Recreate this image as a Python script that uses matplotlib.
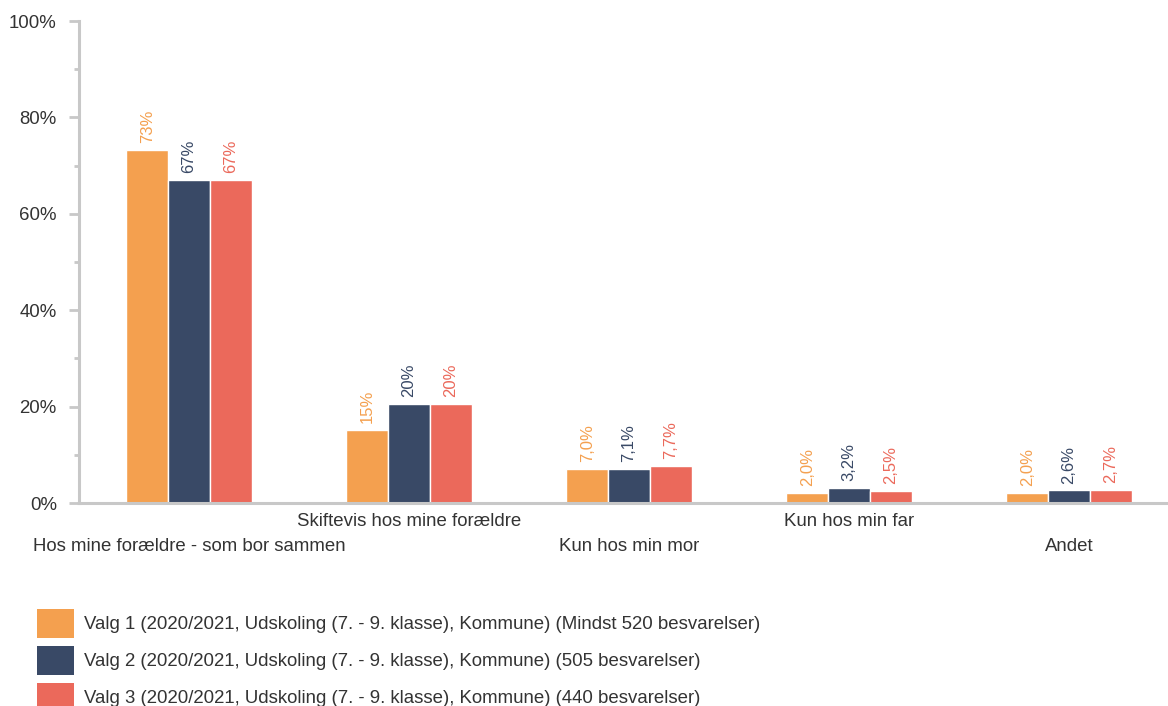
import matplotlib.pyplot as plt
from matplotlib.patches import Patch
from matplotlib.ticker import MultipleLocator, FuncFormatter

plt.rcParams['font.family'] = ['Liberation Sans', 'DejaVu Sans']

# Categories and series
categories = [
    'Hos mine forældre - som bor sammen',
    'Skiftevis hos mine forældre',
    'Kun hos min mor',
    'Kun hos min far',
    'Andet',
]
valg1 = [73.2, 15.2, 7.0, 2.0, 2.0]
valg2 = [67.0, 20.5, 7.1, 3.2, 2.6]
valg3 = [67.0, 20.5, 7.7, 2.5, 2.7]
series_names = [
    'Valg 1 (2020/2021, Udskoling (7. - 9. klasse), Kommune) (Mindst 520 besvarelser)',
    'Valg 2 (2020/2021, Udskoling (7. - 9. klasse), Kommune) (505 besvarelser)',
    'Valg 3 (2020/2021, Udskoling (7. - 9. klasse), Kommune) (440 besvarelser)',
]
colors = ['#F4A04F', '#394966', '#EB695B']

text_col = '#333333'
axis_col = '#C8C8C8'


def fmt_value(v):
    if v >= 10:
        return f'{v:.0f}%'
    return f'{v:.1f}%'.replace('.', ',')


fig = plt.figure(figsize=(11.68, 7.06), dpi=100)
ax = fig.add_axes([79 / 1168, 1 - 503 / 706, 1100 / 1168, 482 / 706])

x = list(range(len(categories)))
width = 0.19
all_series = [valg1, valg2, valg3]
for i, (vals, col) in enumerate(zip(all_series, colors)):
    pos = [xi + (i - 1) * width for xi in x]
    bars = ax.bar(pos, vals, width=width, color=col, edgecolor='white', linewidth=1)
    for b, v in zip(bars, vals):
        ax.annotate(fmt_value(v), (b.get_x() + b.get_width() / 2, v),
                    xytext=(0, 5), textcoords='offset points',
                    ha='center', va='bottom', rotation=90,
                    fontsize=12, color=col)

ax.set_xlim(-0.5, len(categories) - 0.5)
ax.set_ylim(0, 100)
ax.yaxis.set_major_locator(MultipleLocator(20))
ax.yaxis.set_minor_locator(MultipleLocator(10))
ax.yaxis.set_major_formatter(FuncFormatter(lambda v, p: f'{v:.0f}%'))

for s in ['top', 'right']:
    ax.spines[s].set_visible(False)
for s in ['left', 'bottom']:
    ax.spines[s].set_color(axis_col)
    ax.spines[s].set_linewidth(2.2)

ax.tick_params(axis='y', which='major', length=7.5, width=2, color=axis_col,
               labelsize=13.4, labelcolor=text_col, pad=8.5)
ax.tick_params(axis='y', which='minor', length=3.5, width=2, color=axis_col)

ax.set_xticks(x)
ax.set_xticklabels(categories)
ax.tick_params(axis='x', length=0, labelsize=13.4, labelcolor=text_col)
for i, tick in enumerate(ax.xaxis.get_major_ticks()):
    tick.set_pad(25 if i % 2 == 0 else 7.5)

handles = [Patch(facecolor=c, edgecolor='none') for c in colors]
fig.legend(handles, series_names, loc='upper left',
           bbox_to_anchor=(37 / 1168, 1 - 609 / 706),
           frameon=False, fontsize=13.4, labelcolor=text_col,
           handlelength=2.0, handleheight=2.02, handletextpad=0.54,
           labelspacing=0.43, borderaxespad=0, borderpad=0)

fig.savefig('out.png', dpi=100)
